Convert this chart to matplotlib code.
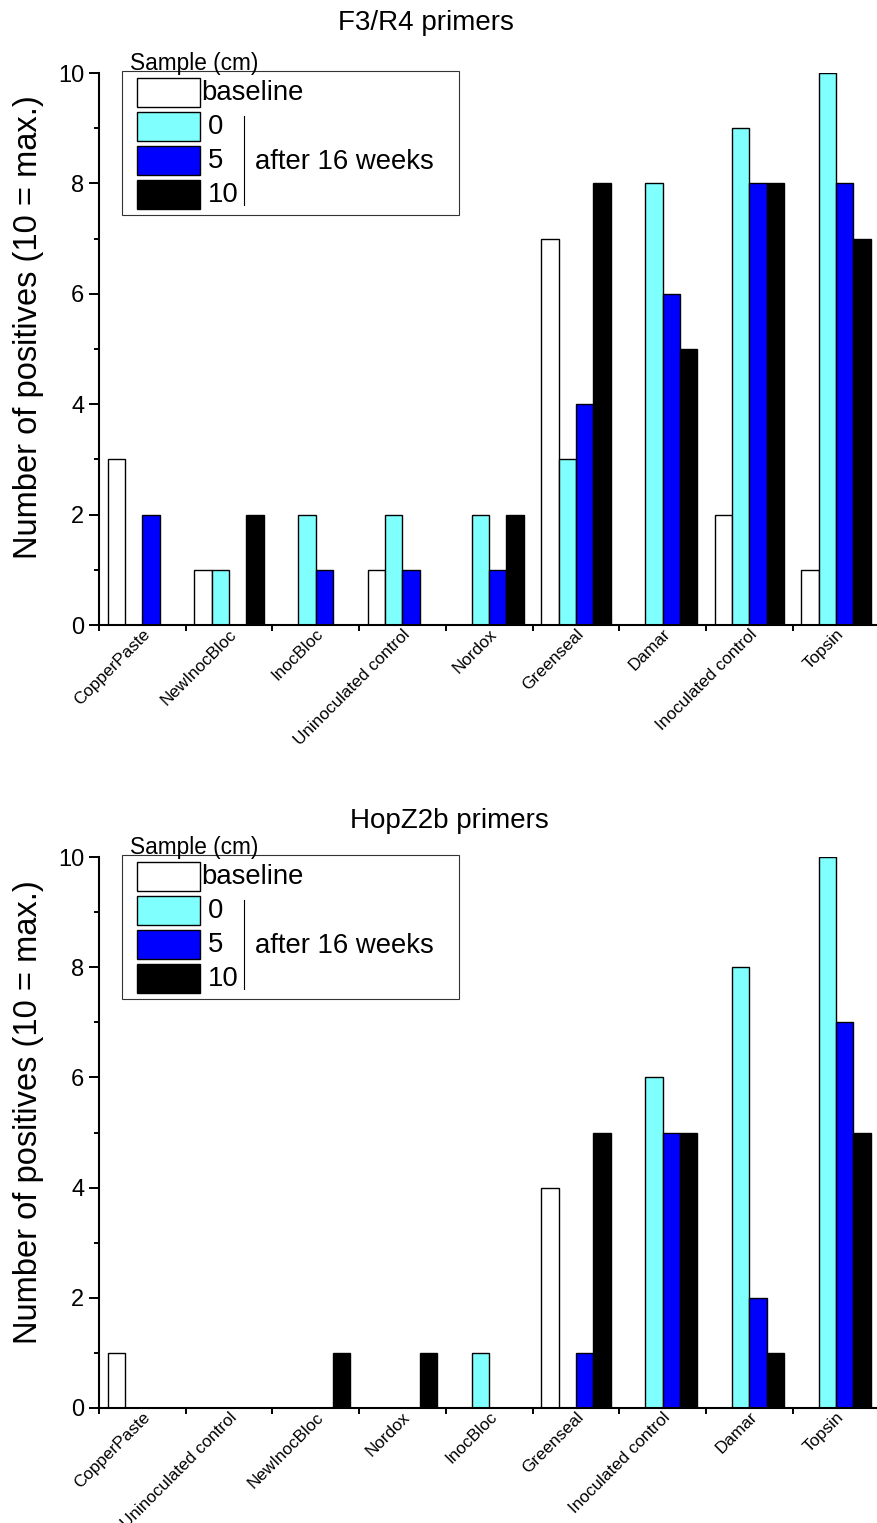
import numpy as np
import matplotlib
matplotlib.use("Agg")
import matplotlib.pyplot as plt
from matplotlib.patches import Rectangle
from matplotlib.lines import Line2D
from matplotlib.ticker import FixedLocator, NullFormatter

plt.rcParams['font.family'] = ['Liberation Sans', 'DejaVu Sans']

# F3/R4 primers
f3_categories = ["CopperPaste", "NewInocBloc", "InocBloc", "Uninoculated control",
                 "Nordox", "Greenseal", "Damar", "Inoculated control", "Topsin"]
f3_baseline = [3, 1, 0, 1, 0, 7, 0, 2, 1]
f3_0cm = [0, 1, 2, 2, 2, 3, 8, 9, 10]
f3_5cm = [2, 0, 1, 1, 1, 4, 6, 8, 8]
f3_10cm = [0, 2, 0, 0, 2, 8, 5, 8, 7]

# HopZ2b primers
hz_categories = ["CopperPaste", "Uninoculated control", "NewInocBloc", "Nordox",
                 "InocBloc", "Greenseal", "Inoculated control", "Damar", "Topsin"]
hz_baseline = [1, 0, 0, 0, 0, 4, 0, 0, 0]
hz_0cm = [0, 0, 0, 0, 1, 0, 6, 8, 10]
hz_5cm = [0, 0, 0, 0, 0, 1, 5, 2, 7]
hz_10cm = [0, 0, 1, 1, 0, 5, 5, 1, 5]

series_labels = ["baseline", "0", "5", "10"]
colors = ["white", "#80FFFF", "#0000FF", "black"]

W, H = 877, 1523
fig = plt.figure(figsize=(W / 100, H / 100), dpi=100)

AX_LEFT = 99
AX_W = 778
GROUP_PX = 86.7
BAR_W = 0.2


def make_axes(top, bottom):
    return fig.add_axes([AX_LEFT / W, 1 - bottom / H, AX_W / W, (bottom - top) / H])


def draw_bars(ax, categories, series):
    x = np.arange(len(categories)) + 0.5
    for k, (vals, col) in enumerate(zip(series, colors)):
        ax.bar(x + (k - 1.5) * BAR_W, vals, width=BAR_W, color=col,
               edgecolor="black", linewidth=1.0, zorder=2)
    ax.set_xlim(0, AX_W / GROUP_PX)
    ax.set_ylim(0, 10)
    for s in ("top", "right"):
        ax.spines[s].set_visible(False)
    for s in ("left", "bottom"):
        ax.spines[s].set_linewidth(1.5)
    ax.set_yticks(range(0, 11, 2))
    ax.yaxis.set_minor_locator(FixedLocator(range(1, 10, 2)))
    ax.tick_params(axis="y", which="major", length=7.5, width=1.4, labelsize=17, pad=3)
    ax.tick_params(axis="y", which="minor", length=3.5, width=1.4)
    ax.xaxis.set_major_locator(FixedLocator(range(len(categories))))
    ax.xaxis.set_major_formatter(NullFormatter())
    ax.xaxis.set_minor_locator(FixedLocator(x))
    ax.set_xticklabels(categories, minor=True, rotation=45, ha="right", va="top",
                       rotation_mode="anchor", fontsize=12.3)
    ax.tick_params(axis="x", which="major", length=4, width=1.4)
    ax.tick_params(axis="x", which="minor", length=0, pad=1)


def draw_legend(ax, top):
    # pixel offsets from the axes' top-left corner
    def fig_xy(dx, dy):
        return ((AX_LEFT + dx) / W, 1 - (top + dy) / H)

    tr = fig.transFigure
    fig.text(*fig_xy(31, -3), "Sample (cm)", fontsize=16.3, va="baseline", ha="left")
    bx, by = fig_xy(23, 142)
    fig.add_artist(Rectangle((bx, by), 337 / W, 144 / H, transform=tr,
                             facecolor="white", edgecolor="#333333", linewidth=0.8))
    for k, (lab, col) in enumerate(zip(series_labels, colors)):
        px_, py_ = fig_xy(38, 5 + 34 * k + 29)
        fig.add_artist(Rectangle((px_, py_), 63 / W, 29 / H, transform=tr,
                                 facecolor=col, edgecolor="black", linewidth=1.0))
        tx = 102 if k == 0 else 109
        fig.text(*fig_xy(tx, 5 + 34 * k + 15), lab, fontsize=19.8, va="center", ha="left")
    x0, y0 = fig_xy(145, 43)
    x1, y1 = fig_xy(145, 132)
    fig.add_artist(Line2D([x0, x1], [y0, y1], transform=tr, color="black", linewidth=0.8))
    fig.text(*fig_xy(156, 89), "after 16 weeks", fontsize=19.8, va="center", ha="left")


ax1 = make_axes(73, 625)
draw_bars(ax1, f3_categories, [f3_baseline, f3_0cm, f3_5cm, f3_10cm])
draw_legend(ax1, 73)
fig.text(426 / W, 1 - 30 / H, "F3/R4 primers", fontsize=20, ha="center", va="baseline")
fig.text(29 / W, 1 - 327 / H, "Number of positives (10 = max.)", fontsize=23.5,
         rotation=90, ha="center", va="center")

ax2 = make_axes(857, 1408)
draw_bars(ax2, hz_categories, [hz_baseline, hz_0cm, hz_5cm, hz_10cm])
draw_legend(ax2, 857)
fig.text(449 / W, 1 - 828 / H, "HopZ2b primers", fontsize=20, ha="center", va="baseline")
fig.text(29 / W, 1 - 1112 / H, "Number of positives (10 = max.)", fontsize=23.5,
         rotation=90, ha="center", va="center")

fig.savefig("out.png", dpi=100)
